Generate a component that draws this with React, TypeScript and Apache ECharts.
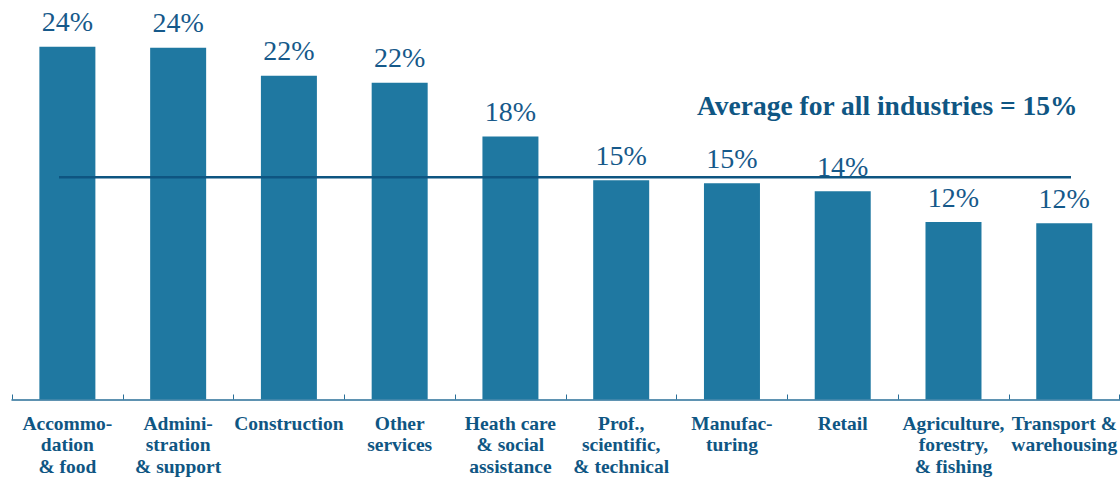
import React, { useEffect, useRef } from "react";
import * as echarts from "echarts";

const categories = [
  "Accommo-\ndation\n& food",
  "Admini-\nstration\n& support",
  "Construction",
  "Other\nservices",
  "Heath care\n& social\nassistance",
  "Prof.,\nscientific,\n& technical",
  "Manufac-\nturing",
  "Retail",
  "Agriculture,\nforestry,\n& fishing",
  "Transport &\nwarehousing",
];
const values = [24.02, 23.95, 22.05, 21.57, 17.91, 14.93, 14.72, 14.18, 12.08, 12.01];
const valueLabels = ["24%", "24%", "22%", "22%", "18%", "15%", "15%", "14%", "12%", "12%"];
const averageValue = 15.13;
const averageText = "Average for all industries = 15%";

const BAR = "#1f78a1";
const DARK = "#0f5683";
const SERIF = "Liberation Serif, serif";

export default function App() {
  const ref = useRef<HTMLDivElement>(null);
  useEffect(() => {
    document.body.style.margin = "0";
    const chart = echarts.init(ref.current!, null, { renderer: "svg" });
    chart.setOption({
      animation: false,
      grid: { left: 12, right: -3, top: 3, bottom: 76, containLabel: false },
      xAxis: {
        type: "category",
        data: categories,
        axisLine: { show: true, lineStyle: { color: "#2a6f98", width: 1.5 } },
        axisTick: { show: true, inside: true, length: 5, lineStyle: { color: "#2a6f98", width: 1 } },
        axisLabel: {
          interval: 0,
          margin: 13,
          fontFamily: SERIF,
          fontWeight: "bold",
          fontSize: 19.5,
          lineHeight: 21.5,
          color: DARK,
          align: "center",
        },
      },
      yAxis: {
        type: "value",
        min: 0,
        max: 27,
        show: false,
        splitLine: { show: false },
      },
      series: [
        {
          type: "bar",
          data: values,
          barWidth: 56,
          itemStyle: { color: BAR },
          label: {
            show: true,
            position: "top",
            distance: 11,
            fontFamily: SERIF,
            fontSize: 28,
            color: "#16598a",
            formatter: (p: any) => valueLabels[p.dataIndex],
          },
        },
      ],
    });
    const avgY = chart.convertToPixel({ yAxisIndex: 0 }, averageValue) as number;
    chart.setOption({
      graphic: [
        {
          type: "line",
          shape: { x1: 59, y1: avgY, x2: 1071, y2: avgY },
          style: { stroke: "#0e5581", lineWidth: 2.5 },
          z: 10,
        },
        {
          type: "text",
          left: 697,
          top: 91,
          style: {
            text: averageText,
            fontFamily: SERIF,
            fontWeight: "bold",
            fontSize: 27.5,
            fill: DARK,
          },
        },
      ],
    });
    return () => chart.dispose();
  }, []);
  return <div ref={ref} style={{ width: 1120, height: 477 }} />;
}
